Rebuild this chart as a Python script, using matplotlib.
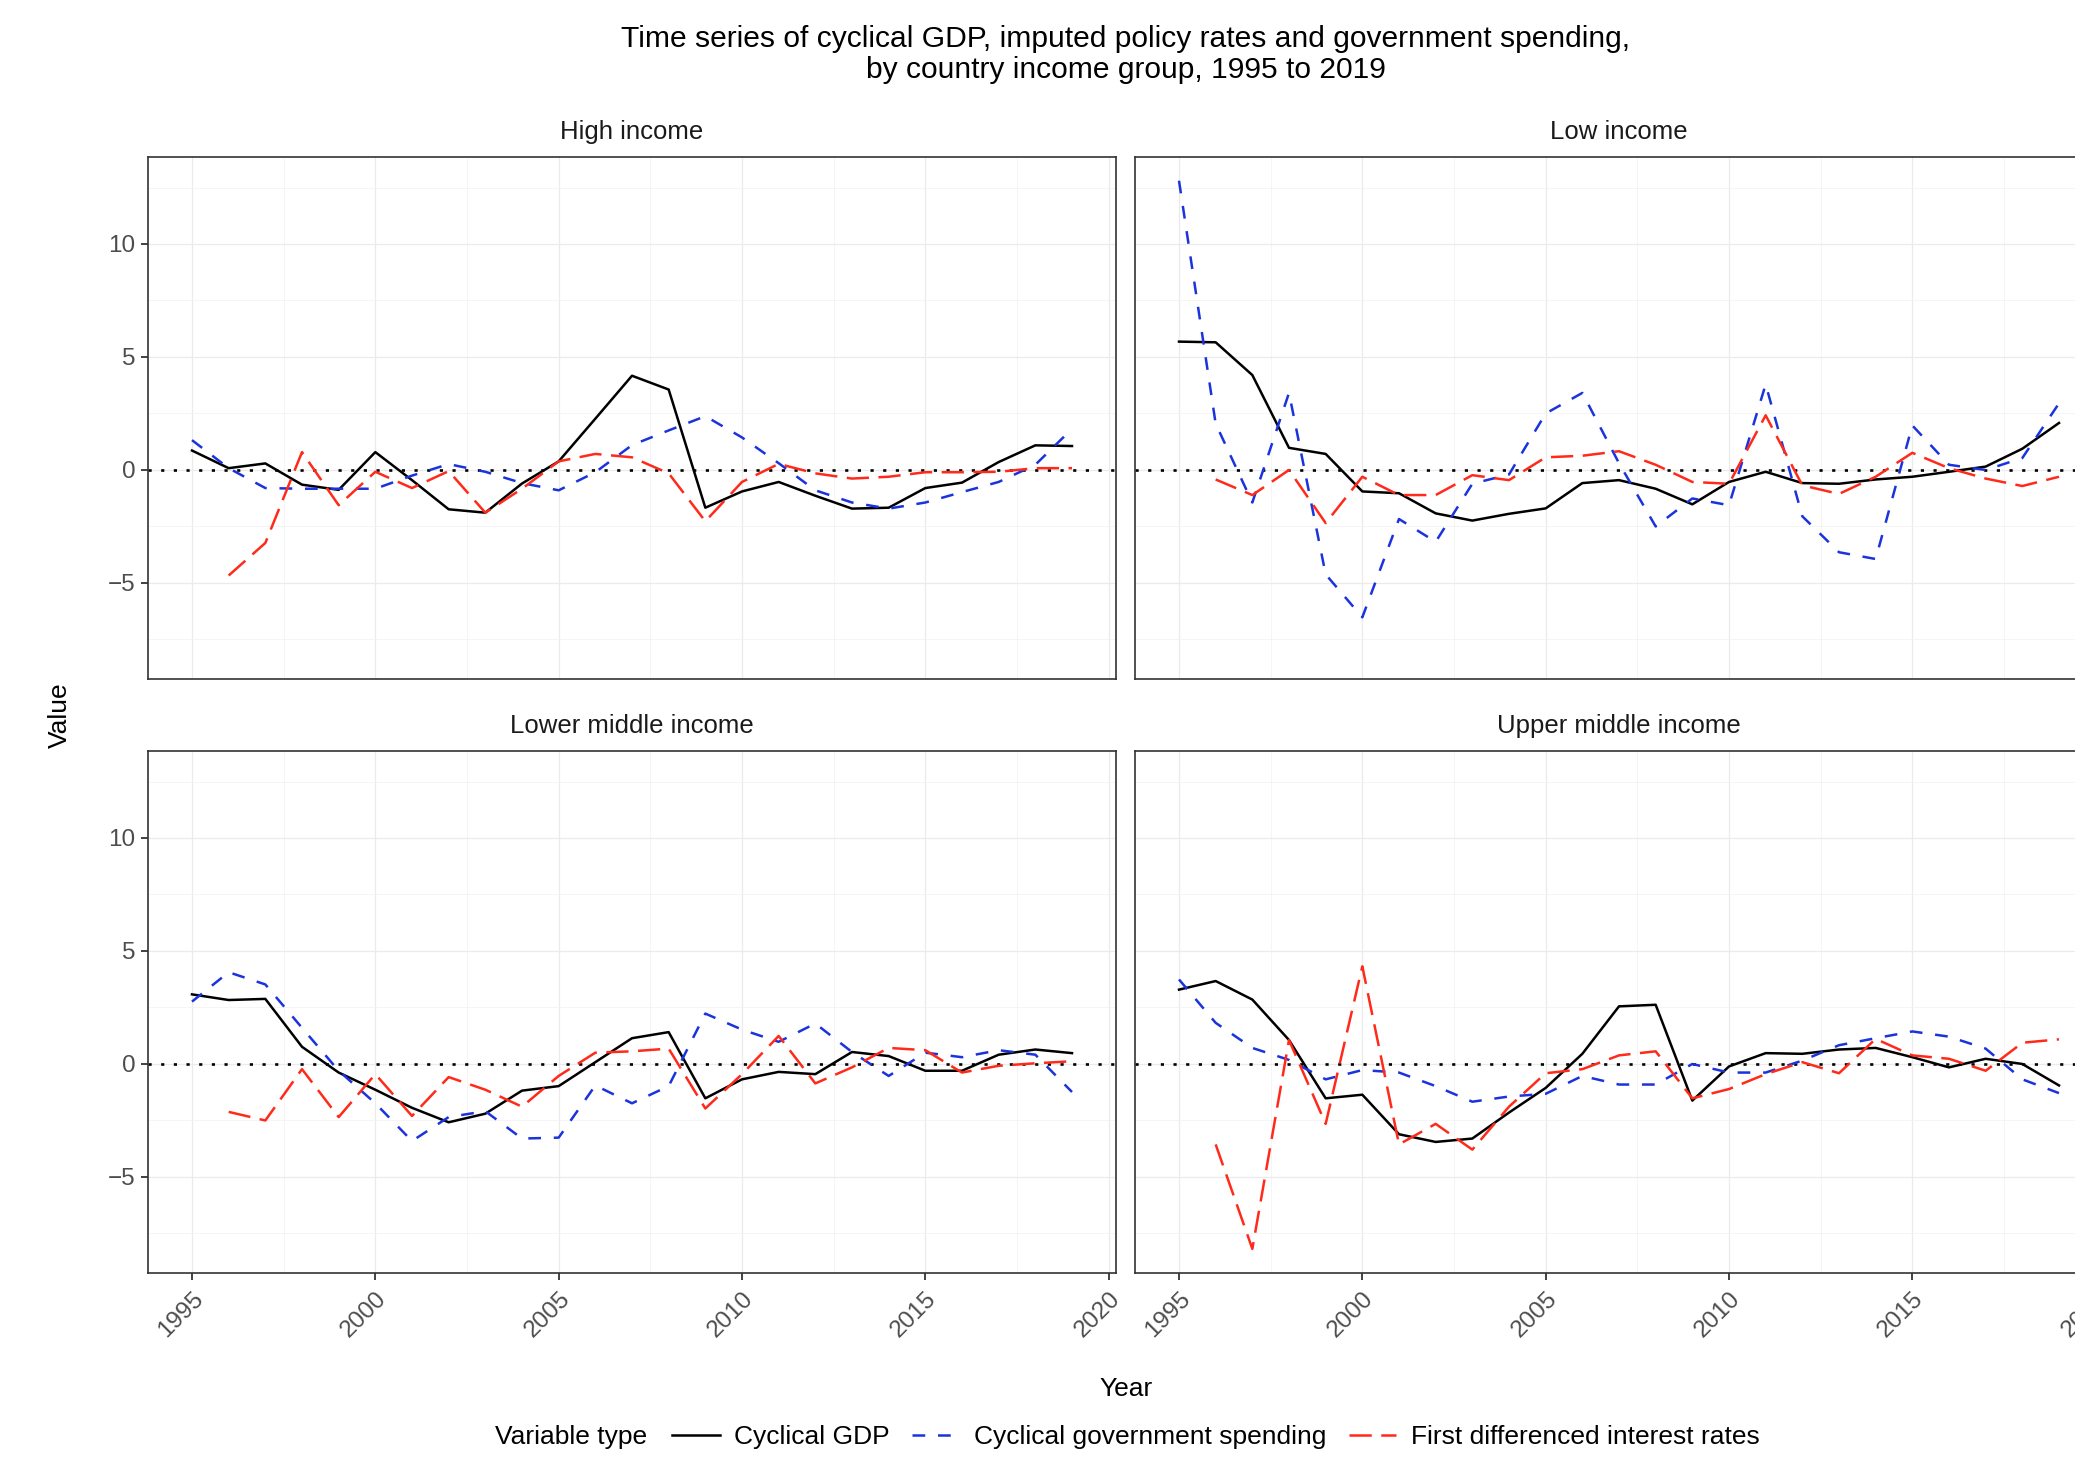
import numpy as np
import matplotlib
matplotlib.use('Agg')
import matplotlib.pyplot as plt
from matplotlib.lines import Line2D

plt.rcParams['font.family'] = ['Liberation Sans', 'DejaVu Sans']

# data
years = list(range(1995, 2020))
groups = ['High income', 'Low income', 'Lower middle income', 'Upper middle income']
var_names = ['Cyclical GDP', 'Cyclical government spending', 'First differenced interest rates']
nan = np.nan

gdp_high = [0.86, 0.08, 0.29, -0.65, -0.88, 0.79, -0.45, -1.74, -1.89, -0.6, 0.38, 2.27, 4.17,
            3.56, -1.67, -0.95, -0.53, -1.14, -1.71, -1.67, -0.8, -0.56, 0.35, 1.09, 1.06]
gov_high = [1.32, 0.08, -0.8, -0.83, -0.83, -0.83, -0.25, 0.26, -0.08, -0.58, -0.9, -0.1, 1.1,
            1.75, 2.38, 1.44, 0.3, -0.9, -1.44, -1.71, -1.44, -0.98, -0.53, 0.23, 1.82]
rate_high = [nan, -4.67, -3.23, 0.79, -1.56, -0.08, -0.8, -0.05, -1.89, -0.83, 0.38, 0.71, 0.56,
             -0.15, -2.27, -0.53, 0.27, -0.15, -0.38, -0.3, -0.1, -0.1, -0.08, 0.08, 0.08]

gdp_low = [5.68, 5.65, 4.2, 0.98, 0.71, -0.95, -1.03, -1.92, -2.24, -1.94, -1.7, -0.58, -0.45,
           -0.83, -1.52, -0.53, -0.08, -0.58, -0.61, -0.42, -0.3, -0.08, 0.15, 0.94, 2.08]
gov_low = [12.8, 2.05, -1.44, 3.41, -4.62, -6.52, -2.17, -3.18, -0.61, -0.2, 2.5, 3.41, 0.3,
           -2.5, -1.26, -1.56, 3.79, -2.05, -3.64, -3.94, 1.97, 0.23, 0.0, 0.53, 2.95]
rate_low = [nan, -0.42, -1.11, 0.0, -2.35, -0.3, -1.11, -1.11, -0.23, -0.45, 0.56, 0.63, 0.83,
            0.23, -0.53, -0.61, 2.42, -0.68, -1.06, -0.3, 0.76, 0.08, -0.38, -0.71, -0.3]

gdp_lmid = [3.08, 2.83, 2.88, 0.76, -0.38, -1.14, -1.94, -2.58, -2.2, -1.18, -0.98, 0.08, 1.14,
            1.41, -1.52, -0.68, -0.35, -0.45, 0.53, 0.35, -0.3, -0.3, 0.41, 0.64, 0.48]
gov_lmid = [2.76, 4.06, 3.52, 1.6, -0.3, -1.74, -3.41, -2.35, -2.09, -3.3, -3.26, -0.95, -1.74,
            -0.98, 2.23, 1.52, 0.98, 1.79, 0.53, -0.53, 0.5, 0.3, 0.61, 0.41, -1.24]
rate_lmid = [nan, -2.12, -2.5, -0.23, -2.35, -0.45, -2.3, -0.58, -1.14, -1.89, -0.53, 0.5, 0.56,
             0.68, -1.97, -0.45, 1.24, -0.86, -0.15, 0.71, 0.61, -0.38, -0.08, 0.03, 0.12]

gdp_umid = [3.29, 3.67, 2.85, 1.06, -1.52, -1.36, -3.11, -3.45, -3.3, -2.15, -1.06, 0.45, 2.55,
            2.62, -1.62, -0.11, 0.48, 0.45, 0.64, 0.71, 0.3, -0.15, 0.23, 0.0, -0.95]
gov_umid = [3.74, 1.82, 0.71, 0.18, -0.68, -0.27, -0.38, -0.98, -1.67, -1.44, -1.32, -0.53, -0.91,
            -0.91, 0.0, -0.38, -0.38, 0.15, 0.83, 1.14, 1.44, 1.21, 0.68, -0.68, -1.29]
rate_umid = [nan, -3.56, -8.18, 1.06, -2.65, 4.32, -3.56, -2.65, -3.79, -1.89, -0.41, -0.23, 0.38,
             0.56, -1.52, -1.11, -0.45, 0.08, -0.41, 1.11, 0.38, 0.23, -0.3, 0.94, 1.09]

x_ticks = [1995, 2000, 2005, 2010, 2015, 2020]
y_ticks = [-5, 0, 5, 10]

panel_data = {
    'High income': (gdp_high, gov_high, rate_high),
    'Low income': (gdp_low, gov_low, rate_low),
    'Lower middle income': (gdp_lmid, gov_lmid, rate_lmid),
    'Upper middle income': (gdp_umid, gov_umid, rate_umid),
}

# styles
LW = 1.8
colors = ['black', '#1a33dd', '#ff2a1a']
dashes = ['-', (0, (5.1, 5.1)), (0, (8.9, 3.8))]
GRID = '#EBEBEB'
BORDER = '#333333'
TICKTXT = '#4D4D4D'

W, H = 2075, 1459
fig = plt.figure(figsize=(W / 100, H / 100), dpi=100)


def px_axes(x, y, w, h):
    return fig.add_axes([x / W, 1 - (y + h) / H, w / W, h / H])


AX_W, AX_H = 968, 522
positions = [(148, 157), (1135, 157), (148, 751), (1135, 751)]

for i, (grp, (px, py)) in enumerate(zip(groups, positions)):
    ax = px_axes(px, py, AX_W, AX_H)
    ax.set_xticks(x_ticks)
    ax.set_yticks(y_ticks)
    ax.set_xticks(np.arange(1992.5, 2021, 2.5), minor=True)
    ax.set_yticks(np.arange(-7.5, 14, 5), minor=True)
    # limits after the ticks, set_xticks would widen them
    ax.set_xlim(1993.8, 2020.2)
    ax.set_ylim(-9.25, 13.85)
    ax.set_axisbelow(True)
    ax.grid(which='major', color=GRID, lw=0.9)
    ax.grid(which='minor', color='#F2F2F2', lw=0.5)
    ax.tick_params(which='minor', length=0)
    ax.tick_params(which='major', length=4.7, width=1.3, color=BORDER,
                   labelsize=17.5, labelcolor=TICKTXT, pad=4.5)
    for sp in ax.spines.values():
        sp.set_color(BORDER)
        sp.set_linewidth(1.2)

    ax.axhline(0, color='black', lw=1.9, linestyle=(0, (1.2, 3.6)), zorder=2)
    for vals, c, ls in zip(panel_data[grp], colors, dashes):
        ax.plot(years, vals, color=c, lw=LW, linestyle=ls, solid_joinstyle='round', zorder=3)

    if i < 2:
        ax.tick_params(axis='x', length=0, labelbottom=False)
    else:
        ax.tick_params(axis='x', pad=6)
        for lab in ax.get_xticklabels():
            lab.set_rotation(45)
            lab.set_ha('right')
            lab.set_va('top')
            lab.set_rotation_mode('anchor')
    if i % 2 == 1:
        ax.tick_params(axis='y', length=0, labelleft=False)

    fig.text((px + AX_W / 2) / W, 1 - (py - 25) / H, grp, ha='center', va='center',
             fontsize=18.5, color='#1A1A1A')

# titles
fig.text(1126 / W, 1 - 39 / H, 'Time series of cyclical GDP, imputed policy rates and government spending,',
         ha='center', va='center', fontsize=21.6)
fig.text(1126 / W, 1 - 70 / H, 'by country income group, 1995 to 2019',
         ha='center', va='center', fontsize=21.6)
fig.text(60 / W, 1 - 715 / H, 'Value', rotation=90, ha='center', va='center', fontsize=19)
fig.text(1126 / W, 1 - 1389 / H, 'Year', ha='center', va='center', fontsize=19)

# legend, title on the left like ggplot
fig.text(495 / W, 1 - 1437 / H, 'Variable type', ha='left', va='center', fontsize=19)
handles = [Line2D([], [], color=c, lw=LW, linestyle=ls) for c, ls in zip(colors, dashes)]
fig.legend(handles, var_names, loc='center left', bbox_to_anchor=(672 / W, 1 - 1437 / H),
           ncol=3, frameon=False, fontsize=19, borderpad=0, borderaxespad=0,
           handlelength=1.8, handletextpad=0.55, columnspacing=0.85)

fig.savefig('out.png', dpi=100)
plt.close(fig)
